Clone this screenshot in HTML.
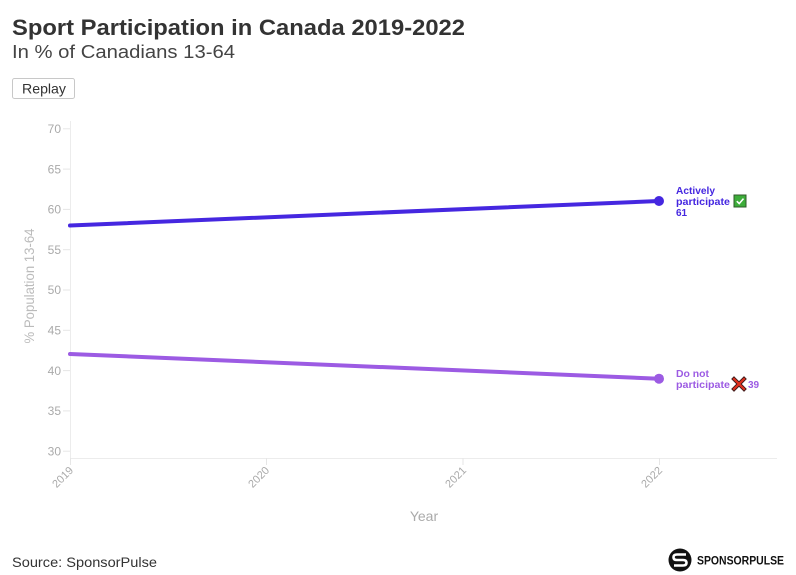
<!DOCTYPE html>
<html>
<head>
<meta charset="utf-8">
<style>
  html, body { margin:0; padding:0; background:#fff; }
  body { width:796px; height:575px; overflow:hidden; }
  svg { display:block; font-family:"Liberation Sans", sans-serif; }
</style>
</head>
<body>
<svg width="796" height="575" viewBox="0 0 796 575" xmlns="http://www.w3.org/2000/svg">
  <!-- Title -->
  <text x="12" y="35" font-size="22" font-weight="bold" fill="#333" textLength="453" lengthAdjust="spacingAndGlyphs">Sport Participation in Canada 2019-2022</text>
  <text x="12" y="58" font-size="18" fill="#444" textLength="223" lengthAdjust="spacingAndGlyphs">In % of Canadians 13-64</text>

  <!-- Replay button -->
  <rect x="12.5" y="78.5" width="62" height="20" rx="2" ry="2" fill="#fff" stroke="#c8c8c8"/>
  <text x="22" y="93.5" font-size="14" fill="#333" textLength="44" lengthAdjust="spacingAndGlyphs">Replay</text>

  <!-- Axes -->
  <line x1="70.5" y1="121" x2="70.5" y2="458" stroke="#ececec" stroke-width="1"/>
  <line x1="70" y1="458.5" x2="777" y2="458.5" stroke="#ececec" stroke-width="1"/>

  <!-- Y ticks -->
  <g stroke="#e6e6e6" stroke-width="1">
    <line x1="63" y1="128.8" x2="70" y2="128.8"/>
    <line x1="63" y1="169.1" x2="70" y2="169.1"/>
    <line x1="63" y1="209.4" x2="70" y2="209.4"/>
    <line x1="63" y1="249.7" x2="70" y2="249.7"/>
    <line x1="63" y1="290" x2="70" y2="290"/>
    <line x1="63" y1="330.3" x2="70" y2="330.3"/>
    <line x1="63" y1="370.6" x2="70" y2="370.6"/>
    <line x1="63" y1="410.9" x2="70" y2="410.9"/>
    <line x1="63" y1="451.2" x2="70" y2="451.2"/>
  </g>
  <g font-size="12" fill="#aaa" text-anchor="end">
    <text x="61" y="133">70</text>
    <text x="61" y="173.3">65</text>
    <text x="61" y="213.6">60</text>
    <text x="61" y="253.9">55</text>
    <text x="61" y="294.2">50</text>
    <text x="61" y="334.5">45</text>
    <text x="61" y="374.8">40</text>
    <text x="61" y="415.1">35</text>
    <text x="61" y="455.4">30</text>
  </g>

  <!-- Y axis title -->
  <text transform="translate(34,286) rotate(-90)" text-anchor="middle" font-size="14" fill="#bbb" textLength="115" lengthAdjust="spacingAndGlyphs">% Population 13-64</text>

  <!-- X ticks -->
  <g stroke="#e6e6e6" stroke-width="1">
    <line x1="70.5" y1="458" x2="70.5" y2="465"/>
    <line x1="266.5" y1="458" x2="266.5" y2="465"/>
    <line x1="463" y1="458" x2="463" y2="465"/>
    <line x1="659.5" y1="458" x2="659.5" y2="465"/>
  </g>
  <g font-size="11" fill="#aaa" text-anchor="end">
    <text transform="translate(74,471) rotate(-45)">2019</text>
    <text transform="translate(270,471) rotate(-45)">2020</text>
    <text transform="translate(467,471) rotate(-45)">2021</text>
    <text transform="translate(663,471) rotate(-45)">2022</text>
  </g>

  <!-- X axis title -->
  <text x="424" y="521" text-anchor="middle" font-size="14" fill="#aaa">Year</text>

  <!-- Series -->
  <line x1="70" y1="225.5" x2="659" y2="201" stroke="#4527e0" stroke-width="4" stroke-linecap="round"/>
  <circle cx="659" cy="201" r="5" fill="#4527e0"/>
  <line x1="70" y1="354" x2="659" y2="378.7" stroke="#9c5be3" stroke-width="4" stroke-linecap="round"/>
  <circle cx="659" cy="378.7" r="5" fill="#9c5be3"/>

  <!-- Labels -->
  <g font-size="10" font-weight="bold" fill="#4527e0">
    <text x="676" y="194" textLength="39" lengthAdjust="spacingAndGlyphs">Actively</text>
    <text x="676" y="205" textLength="54" lengthAdjust="spacingAndGlyphs">participate</text>
    <text x="676" y="216">61</text>
  </g>
  <!-- check box -->
  <rect x="734" y="195" width="12" height="12" fill="#3dad3a" stroke="#2f5a2a" stroke-width="1"/>
  <path d="M736.8 201.2 L739.2 203.6 L743.5 198.6" fill="none" stroke="#fff" stroke-width="1.6"/>

  <g font-size="10" font-weight="bold" fill="#9c5be3">
    <text x="676" y="377" textLength="33" lengthAdjust="spacingAndGlyphs">Do not</text>
    <text x="676" y="388" textLength="54" lengthAdjust="spacingAndGlyphs">participate</text>
    <text x="748" y="388">39</text>
  </g>
  <!-- red X -->
  <g stroke-linecap="square">
    <path d="M734 379 L744 389 M744 379 L734 389" stroke="#3a1a1a" stroke-width="4"/>
    <path d="M734 379 L744 389 M744 379 L734 389" stroke="#e0301e" stroke-width="2.2"/>
  </g>

  <!-- Source -->
  <text x="12" y="567" font-size="14" fill="#333" textLength="145" lengthAdjust="spacingAndGlyphs">Source: SponsorPulse</text>

  <!-- Logo -->
  <circle cx="680" cy="560" r="11.5" fill="#111"/>
  <path d="M686 554.5 L677 554.5 Q673.5 554.5 673.5 557.2 Q673.5 560 677 560 L683 560 Q686.5 560 686.5 562.8 Q686.5 565.5 683 565.5 L674 565.5" fill="none" stroke="#fff" stroke-width="2.6"/>
  <text x="697" y="564.5" font-size="11.5" font-weight="bold" fill="#111" textLength="87" lengthAdjust="spacingAndGlyphs">SPONSORPULSE</text>
</svg>
</body>
</html>
